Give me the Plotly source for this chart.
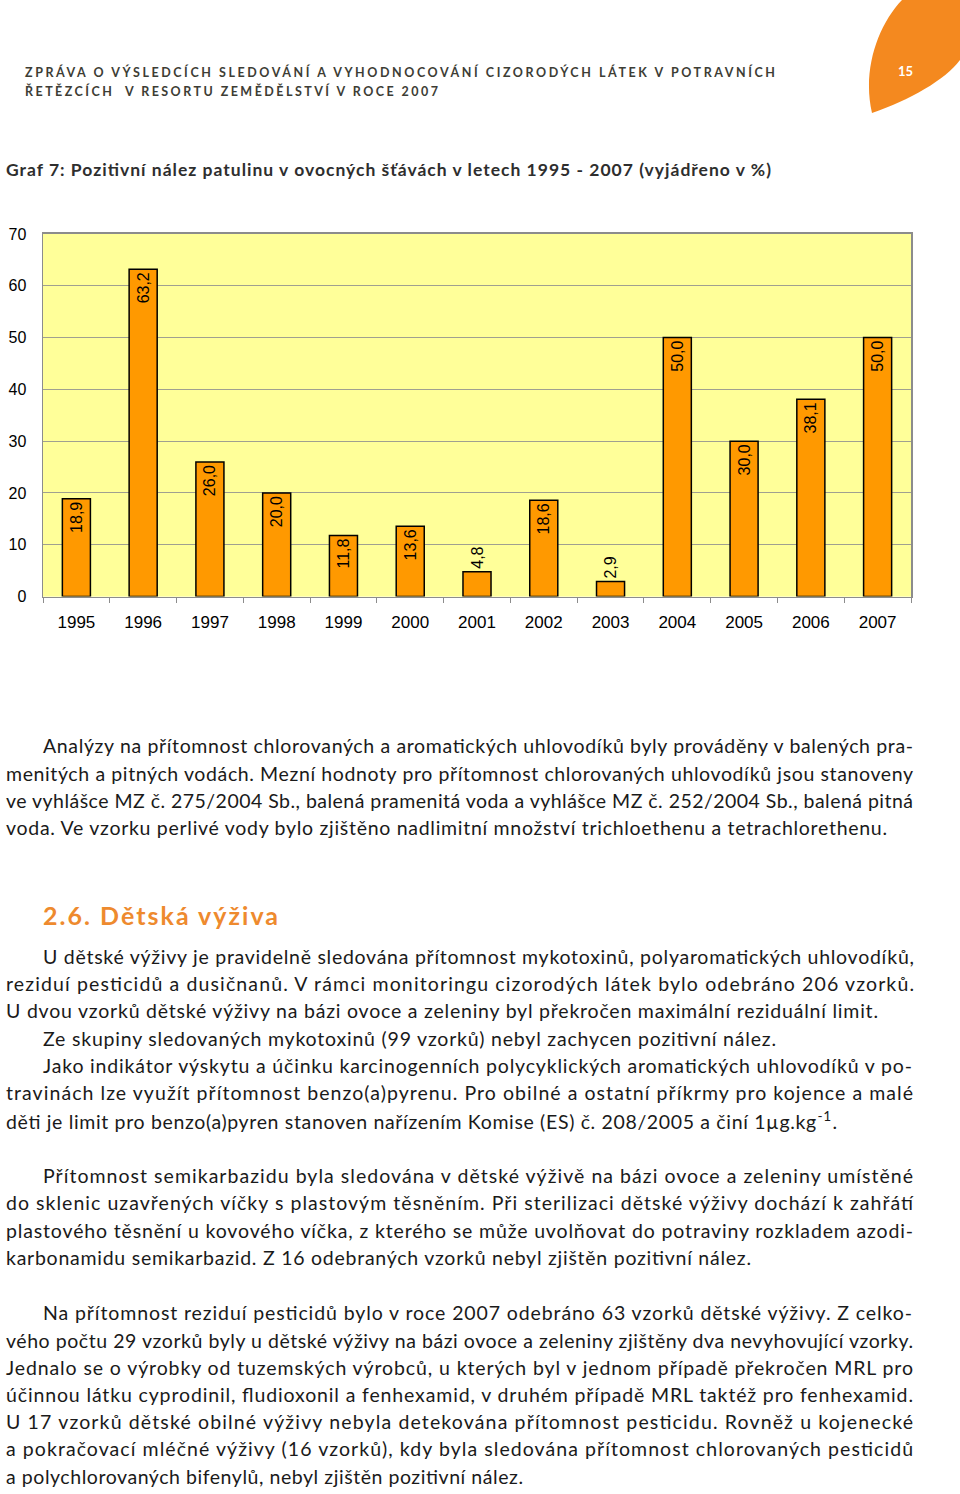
import json
import plotly.graph_objects as go

W, H = 960, 1494

years = ["1995", "1996", "1997", "1998", "1999", "2000", "2001",
         "2002", "2003", "2004", "2005", "2006", "2007"]
values = [18.9, 63.2, 26.0, 20.0, 11.8, 13.6, 4.8, 18.6, 2.9, 50.0, 30.0, 38.1, 50.0]
labels = [f"{v:.1f}".replace(".", ",") for v in values]
label_pos = ["outside" if v < 8 else "inside" for v in values]

header_lines = [
    "ZPRÁVA O VÝSLEDCÍCH SLEDOVÁNÍ A VYHODNOCOVÁNÍ CIZORODÝCH LÁTEK V POTRAVNÍCH",
    "ŘETĚZCÍCH  V RESORTU ZEMĚDĚLSTVÍ V ROCE 2007",
]
chart_title = "Graf 7: Pozitivní nález patulinu v ovocných šťávách v letech 1995 - 2007 (vyjádřeno v %)"
section_heading = "2.6. Dětská výživa"

# (text, left x, y centre, target width)
body_lines = [
    ("Analýzy na přítomnost chlorovaných a aromatických uhlovodíků byly prováděny v balených pra-", 42, 746, 870),
    ("menitých a pitných vodách. Mezní hodnoty pro přítomnost chlorovaných uhlovodíků jsou stanoveny", 5, 774, 907),
    ("ve vyhlášce MZ č. 275/2004 Sb., balená pramenitá voda a vyhlášce MZ č. 252/2004 Sb., balená pitná", 5, 801, 907),
    ("voda. Ve vzorku perlivé vody bylo zjištěno nadlimitní množství trichloethenu a tetrachlorethenu.", 5, 828, 881),
    ("U dětské výživy je pravidelně sledována přítomnost mykotoxinů, polyaromatických uhlovodíků,", 42, 957, 871),
    ("reziduí pesticidů a dusičnanů. V rámci monitoringu cizorodých látek bylo odebráno 206 vzorků.", 5, 984, 908),
    ("U dvou vzorků dětské výživy na bázi ovoce a zeleniny byl překročen maximální reziduální limit.", 5, 1011, 872),
    ("Ze skupiny sledovaných mykotoxinů (99 vzorků) nebyl zachycen pozitivní nález.", 42, 1039, 733),
    ("Jako indikátor výskytu a účinku karcinogenních polycyklických aromatických uhlovodíků v po-", 42, 1066, 869),
    ("travinách lze využít přítomnost benzo(a)pyrenu. Pro obilné a ostatní příkrmy pro kojence a malé", 5, 1093, 907),
    ("děti je limit pro benzo(a)pyren stanoven nařízením Komise (ES) č. 208/2005 a činí 1µg.kg<sup>-1</sup>.", 5, 1121, 831),
    ("Přítomnost semikarbazidu byla sledována v dětské výživě na bázi ovoce a zeleniny umístěné", 42, 1176, 870),
    ("do sklenic uzavřených víčky s plastovým těsněním. Při sterilizaci dětské výživy dochází k zahřátí", 5, 1203, 907),
    ("plastového těsnění u kovového víčka, z kterého se může uvolňovat do potraviny rozkladem azodi-", 5, 1231, 907),
    ("karbonamidu semikarbazid. Z 16 odebraných vzorků nebyl zjištěn pozitivní nález.", 5, 1258, 745),
    ("Na přítomnost reziduí pesticidů bylo v roce 2007 odebráno 63 vzorků dětské výživy. Z celko-", 42, 1313, 869),
    ("vého počtu 29 vzorků byly u dětské výživy na bázi ovoce a zeleniny zjištěny dva nevyhovující vzorky.", 5, 1341, 907),
    ("Jednalo se o výrobky od tuzemských výrobců, u kterých byl v jednom případě překročen MRL pro", 5, 1368, 907),
    ("účinnou látku cyprodinil, fludioxonil a fenhexamid, v druhém případě MRL taktéž pro fenhexamid.", 5, 1396, 907),
    ("U 17 vzorků dětské obilné výživy nebyla detekována přítomnost pesticidu. Rovněž u kojenecké", 5, 1423, 907),
    ("a pokračovací mléčné výživy (16 vzorků), kdy byla sledována přítomnost chlorovaných pesticidů", 5, 1450, 907),
    ("a polychlorovaných bifenylů, nebyl zjištěn pozitivní nález.", 5, 1478, 517),
]


def px(x):
    return x / W


def py(y):
    # compensate the vertical offset/scale observed in the capture
    yp = y * 1510 / 1494 - 8
    return 1 - yp / H


fig = go.Figure()
fig.add_trace(go.Bar(
    x=years, y=values, text=labels, textposition=label_pos,
    textangle=-90, insidetextanchor="end", constraintext="none",
    textfont=dict(family="Liberation Sans, Arial", size=16, color="black"),
    marker=dict(color="#FF9900", line=dict(color="black", width=1.5)),
    width=0.42, cliponaxis=False, hoverinfo="skip",
))

annotations = []
targets = {}


def add_text(text, x, y, size, color, family="Lato", width=None):
    annotations.append(dict(
        text=text, x=px(x), y=py(y), xref="paper", yref="paper",
        xanchor="left", yanchor="middle", align="left", showarrow=False,
        borderpad=0, font=dict(family=family, size=size, color=color),
    ))
    if width is not None:
        targets[len(annotations) - 1] = width


add_text("<b>" + header_lines[0] + "</b>", 24, 72, 12.5, "#3d3d35", width=750)
add_text("<b>" + header_lines[1] + "</b>", 24, 91, 12.5, "#3d3d35", width=413)
add_text("<b>" + chart_title + "</b>", 5, 170, 17.5, "#2e2e2e", width=765)
add_text("<b>" + section_heading + "</b>", 42, 916, 25, "#EE8A2E", width=235)
for t, x, y, w in body_lines:
    add_text(t, x, y, 19.5, "#1a1a1a", width=w)

annotations.append(dict(
    text="<b>15</b>", x=px(905), y=py(71), xref="paper", yref="paper",
    xanchor="center", yanchor="middle", showarrow=False,
    font=dict(family="Lato", size=13, color="white"),
))

leaf = [(902, 0), (878, 25), (862, 70), (872, 113), (910, 100), (945, 80), (960, 60)]
path = "M {:.5f} {:.5f} C {:.5f} {:.5f}, {:.5f} {:.5f}, {:.5f} {:.5f} C {:.5f} {:.5f}, {:.5f} {:.5f}, {:.5f} {:.5f} L 1 {:.5f} L {:.5f} {:.5f} Z".format(
    *[c for p in leaf for c in (px(p[0]), py(p[1]))], py(-12), px(908), py(-12))

fig.update_layout(
    width=W, height=H, margin=dict(l=0, r=0, t=0, b=0),
    paper_bgcolor="white", plot_bgcolor="#FFFF99",
    showlegend=False, annotations=annotations,
    shapes=[dict(type="path", path=path, xref="paper", yref="paper",
                 fillcolor="#F4891F", line=dict(width=0), layer="below")],
    xaxis=dict(domain=[px(43), px(911)], type="category",
               showline=True, linecolor="#8c8c8c", linewidth=1.5, mirror=True,
               ticks="outside", ticklen=5, tickcolor="#8c8c8c", tickson="boundaries",
               tickfont=dict(family="Liberation Sans, Arial", size=17, color="black"),
               ticklabelstandoff=9, showgrid=False),
    yaxis=dict(domain=[py(597), py(234)], range=[0, 70], dtick=10,
               showline=True, linecolor="#8c8c8c", linewidth=1.5, mirror=True,
               ticks="", gridcolor="#a0a090", gridwidth=1,
               tickfont=dict(family="Liberation Sans, Arial", size=16, color="black"),
               ticklabelstandoff=12, zeroline=False),
    bargap=0.58,
)

post = """
var css = 'margin:0;padding:0;overflow:hidden;width:960px;height:1494px;';
document.documentElement.style.cssText = css;
document.body.style.cssText = css;
var gd = document.getElementById('{plot_id}');
gd.style.position = 'fixed';
gd.style.top = '0px';
gd.style.left = '0px';
var targets = %s;
gd.querySelectorAll('g.annotation').forEach(function(g){
  var i = g.getAttribute('data-index');
  if (targets[i] !== undefined) {
    var t = g.querySelector('text.annotation-text');
    if (t) { t.setAttribute('textLength', targets[i]); t.setAttribute('lengthAdjust', 'spacing'); }
  }
});
""" % json.dumps({str(k): v for k, v in targets.items()})

fig.write_html("out.html", post_script=post, config={"displayModeBar": False, "staticPlot": True})
